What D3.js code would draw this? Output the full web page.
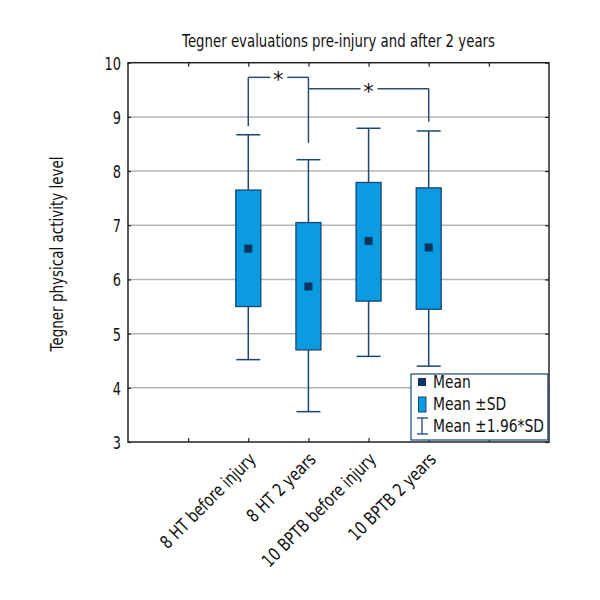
<!DOCTYPE html>
<html><head><meta charset="utf-8">
<script src="https://cdn.jsdelivr.net/npm/d3@7"></script>
<style>body{margin:0;background:#fff}svg text{font-family:"DejaVu Sans",sans-serif;fill:#111}</style>
</head><body><svg id="c" width="600" height="600"></svg>
<script>
const categories = ["8 HT before injury","8 HT 2 years","10 BPTB before injury","10 BPTB 2 years"];
const means   = [6.57, 5.87, 6.71, 6.59];
const sdLow   = [5.50, 4.70, 5.60, 5.45];
const sdHigh  = [7.65, 7.05, 7.79, 7.69];
const ciLow   = [4.52, 3.56, 4.58, 4.40];
const ciHigh  = [8.67, 8.21, 8.79, 8.74];
const yTicks  = [3,4,5,6,7,8,9,10];
const legendLabels = ["Mean","Mean \u00b1SD","Mean \u00b11.96*SD"];
// significance brackets: [from index, to index, level]
const brackets = [[0,1,9.73],[1,3,9.52]];
const bracketEnds = [[8.83,8.52],[null,8.91]];

const svg = d3.select("#c");
const L=128,R=549,T=62.7,B=442;
const x = d3.scaleLinear().domain([0,7]).range([L,R]);
const y = d3.scaleLinear().domain([3,10]).range([B,T]);
const fill="#0a9be0", dark="#1c4570", navy="#0b3560";

svg.append("g").selectAll("line").data(yTicks.filter(v=>v>3&&v<10)).join("line")
 .attr("x1",L).attr("x2",R).attr("y1",d=>y(d)).attr("y2",d=>y(d))
 .attr("stroke","#b4b4b4").attr("stroke-width",1.5);

const fx=[1,2,3,4,5,6];
svg.append("g").attr("transform",`translate(0,${B})`).call(d3.axisTop(x).tickValues(fx).tickSize(4).tickFormat(""));
svg.append("g").attr("transform",`translate(0,${T})`).call(d3.axisBottom(x).tickValues(fx).tickSize(4).tickFormat(""));
svg.append("g").attr("transform",`translate(${R},0)`).call(d3.axisLeft(y).tickValues(yTicks).tickSize(4).tickFormat(""));
const yl = svg.append("g").attr("transform",`translate(${L},0)`).call(d3.axisLeft(y).tickValues(yTicks).tickSize(-3).tickPadding(7).tickFormat(d3.format("d")));
svg.selectAll(".domain").remove();
svg.selectAll(".tick line").attr("stroke","#222").attr("stroke-width",1.2);
yl.attr("font-family",null).attr("font-size",null);
yl.selectAll("text").style("font-size","18px").attr("dy","0.36em").attr("x",-7/0.72).attr("transform","scale(0.72,1)");
svg.append("rect").attr("x",L).attr("y",T).attr("width",R-L).attr("height",B-T)
 .attr("fill","none").attr("stroke","#222").attr("stroke-width",1.5);

const g = svg.append("g");
categories.forEach((c,i)=>{
  const cx=x(i+2);
  g.append("line").attr("x1",cx).attr("x2",cx).attr("y1",y(ciLow[i])).attr("y2",y(ciHigh[i])).attr("stroke",dark).attr("stroke-width",1.5);
  [ciLow[i],ciHigh[i]].forEach(v=>g.append("line").attr("x1",cx-12).attr("x2",cx+12).attr("y1",y(v)).attr("y2",y(v)).attr("stroke",dark).attr("stroke-width",1.5));
  g.append("rect").attr("x",cx-12.5).attr("width",25).attr("y",y(sdHigh[i])).attr("height",y(sdLow[i])-y(sdHigh[i]))
   .attr("fill",fill).attr("stroke",dark).attr("stroke-width",1.3);
  g.append("rect").attr("x",cx-4).attr("y",y(means[i])-4).attr("width",8).attr("height",8).attr("fill",navy);
});

brackets.forEach((b,k)=>{
  const x1=x(b[0]+2), x2=x(b[1]+2), yy=y(b[2]);
  const xm=(x1+x2)/2;
  const bg=svg.append("g").attr("stroke","#2c4a6e").attr("stroke-width",1.5).attr("fill","none");
  const e=bracketEnds[k];
  if(e[0]!==null) bg.append("line").attr("x1",x1).attr("x2",x1).attr("y1",y(e[0])).attr("y2",yy);
  bg.append("line").attr("x1",x1).attr("x2",xm-8).attr("y1",yy).attr("y2",yy);
  bg.append("line").attr("x1",xm+9).attr("x2",x2).attr("y1",yy).attr("y2",yy);
  bg.append("line").attr("x1",x2).attr("x2",x2).attr("y1",yy).attr("y2",y(e[1]));
  svg.append("text").attr("x",xm).attr("y",yy+10).attr("text-anchor","middle").style("font-size","21px").text("*");
});

categories.forEach((c,i)=>{
  svg.append("text").attr("transform",`translate(${x(i+2)+4},${B+14}) rotate(-45) scale(0.78,1)`)
   .attr("text-anchor","end").attr("dy","0.35em").style("font-size","18px").text(c);
});

svg.append("text").attr("transform",`translate(${(L+R)/2},47) scale(0.74,1)`).attr("text-anchor","middle").style("font-size","18px").text("Tegner evaluations pre-injury and after 2 years");
svg.append("text").attr("transform","translate(63,254) rotate(-90) scale(0.75,1)").attr("text-anchor","middle").style("font-size","18px").text("Tegner physical activity level");

const lg=svg.append("g");
const box = lg.append("rect").attr("x",411).attr("y",374).attr("height",66).attr("fill","#fff").attr("stroke","#1c4570").attr("stroke-width",1.2);
let maxW=0;
legendLabels.forEach((t,i)=>{
  const yy=382+i*22;
  if(i===0) lg.append("rect").attr("x",418).attr("y",yy-4).attr("width",8).attr("height",8).attr("fill",navy);
  if(i===1) lg.append("rect").attr("x",418.5).attr("y",yy-7).attr("width",7.5).attr("height",15).attr("fill",fill).attr("stroke",dark);
  if(i===2){
    lg.append("line").attr("x1",422).attr("x2",422).attr("y1",yy-8).attr("y2",yy+8).attr("stroke",dark).attr("stroke-width",1.3);
    lg.append("line").attr("x1",417).attr("x2",428).attr("y1",yy-8).attr("y2",yy-8).attr("stroke",dark).attr("stroke-width",1.3);
    lg.append("line").attr("x1",417).attr("x2",428).attr("y1",yy+8).attr("y2",yy+8).attr("stroke",dark).attr("stroke-width",1.3);
  }
  const tx = lg.append("text").attr("transform",`translate(433,${yy}) scale(0.77,1)`).attr("dy","0.36em").style("font-size","18px").text(t);
  maxW=Math.max(maxW,tx.node().getComputedTextLength()*0.77);
});
box.attr("width",433+maxW+4-411);
</script></body></html>
